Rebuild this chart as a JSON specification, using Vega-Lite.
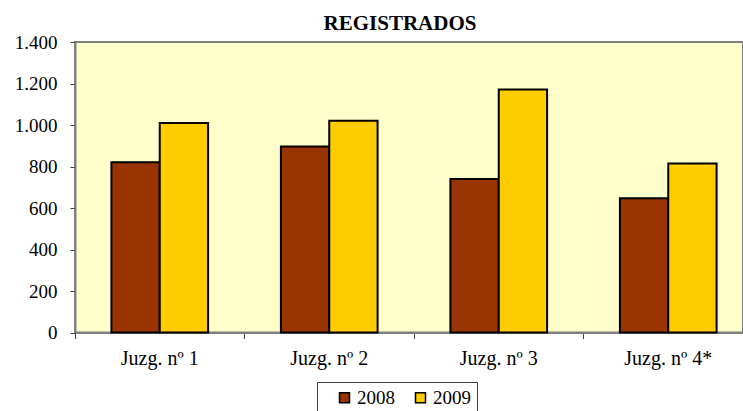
{
  "$schema": "https://vega.github.io/schema/vega-lite/v6.json",
  "autosize": "none",
  "padding": {"left": 75, "top": 42, "right": 0, "bottom": 78.5},
  "width": 668,
  "height": 290.5,
  "background": "white",
  "title": {
    "text": "REGISTRADOS",
    "font": "Liberation Serif",
    "fontSize": 21,
    "fontWeight": "bold",
    "color": "black",
    "anchor": "middle",
    "dx": -9,
    "offset": -1
  },
  "data": {
    "values": [
      {"juzgado": "Juzg. nº 1", "year": "2008", "value": 820},
      {"juzgado": "Juzg. nº 1", "year": "2009", "value": 1010},
      {"juzgado": "Juzg. nº 2", "year": "2008", "value": 896},
      {"juzgado": "Juzg. nº 2", "year": "2009", "value": 1020},
      {"juzgado": "Juzg. nº 3", "year": "2008", "value": 740},
      {"juzgado": "Juzg. nº 3", "year": "2009", "value": 1171},
      {"juzgado": "Juzg. nº 4*", "year": "2008", "value": 647},
      {"juzgado": "Juzg. nº 4*", "year": "2009", "value": 814}
    ]
  },
  "mark": {"type": "bar", "stroke": "black", "strokeWidth": 2},
  "encoding": {
    "x": {
      "field": "juzgado",
      "type": "nominal",
      "sort": ["Juzg. nº 1", "Juzg. nº 2", "Juzg. nº 3", "Juzg. nº 4*"],
      "scale": {"paddingInner": 0, "paddingOuter": 0, "range": [0, 678]},
      "axis": {
        "title": null,
        "labelAngle": 0,
        "bandPosition": 0,
        "tickSize": 6,
        "labelPadding": 10,
        "labelFont": "Liberation Serif",
        "labelFontSize": 20,
        "labelColor": "black",
        "labelBound": false,
        "labelOverlap": false
      }
    },
    "xOffset": {
      "field": "year",
      "type": "nominal",
      "scale": {"paddingInner": 0, "paddingOuter": 0.753}
    },
    "y": {
      "field": "value",
      "type": "quantitative",
      "scale": {"domain": [0, 1400], "nice": false},
      "axis": {
        "title": null,
        "values": [0, 200, 400, 600, 800, 1000, 1200, 1400],
        "grid": false,
        "tickSize": 5,
        "labelPadding": 13,
        "labelFont": "Liberation Serif",
        "labelFontSize": 19,
        "labelColor": "black",
        "labelExpr": "replace(format(datum.value, ','), ',', '.')"
      }
    },
    "color": {
      "field": "year",
      "type": "nominal",
      "scale": {"domain": ["2008", "2009"], "range": ["#993300", "#FFCC00"]},
      "legend": {
        "title": null,
        "orient": "none",
        "legendX": 242,
        "legendY": 340,
        "direction": "horizontal",
        "symbolType": "square",
        "symbolSize": 100,
        "symbolOffset": 12,
        "symbolStrokeColor": "black",
        "symbolStrokeWidth": 1.5,
        "symbolOpacity": 1,
        "labelFont": "Liberation Serif",
        "labelFontSize": 19,
        "labelColor": "black",
        "labelOffset": 3,
        "columnPadding": 4,
        "padding": 6,
        "strokeColor": "#404040",
        "fillColor": "white"
      }
    }
  },
  "config": {
    "view": {"fill": "#FFFFCC", "stroke": "#808080", "strokeWidth": 2},
    "axis": {
      "domainColor": "#808080",
      "domainWidth": 2,
      "tickColor": "#404040",
      "tickWidth": 1
    }
  }
}
